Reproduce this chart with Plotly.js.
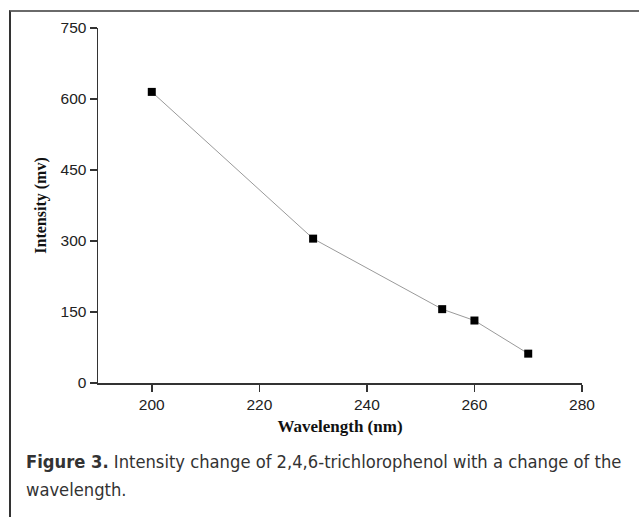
<!DOCTYPE html>
<html>
<head>
<meta charset="utf-8">
<script src="https://cdn.plot.ly/plotly-3.0.1.min.js"></script>
<style>
html,body{margin:0;padding:0;background:#fff;}
#frame{position:absolute;left:9px;top:10px;width:640px;height:520px;border-left:2px solid #333;border-top:2px solid #6a6a6a;box-sizing:border-box;}
#chart{position:absolute;left:0;top:0;width:639px;height:517px;}
</style>
</head>
<body>
<div id="frame"></div>
<div id="chart"></div>
<script>
const wavelength = [200, 230, 254, 260, 270];
const intensity = [615, 305, 156, 132, 62];
const xTicks = [200, 220, 240, 260, 280];
const yTicks = [0, 150, 300, 450, 600, 750];
const xTitle = "Wavelength (nm)";
const yTitle = "Intensity (mv)";
const captionBold = "Figure 3.";
const captionLine1 = " Intensity change of 2,4,6-trichlorophenol with a change of the";
const captionLine2 = "wavelength.";

const trace = {
  x: wavelength, y: intensity, type: 'scatter', mode: 'lines+markers',
  line: {color: '#9a9a9a', width: 1},
  marker: {symbol: 'square', size: 8, color: '#000'},
  hoverinfo: 'none'
};

const capFont = {family: 'DejaVu Sans Condensed, Open Sans, sans-serif', size: 18.2, color: '#333'};

const layout = {
  width: 639, height: 517,
  margin: {l: 98, r: 57, t: 28, b: 134},
  paper_bgcolor: 'rgba(0,0,0,0)', plot_bgcolor: 'rgba(0,0,0,0)',
  showlegend: false,
  xaxis: {
    range: [190, 280], tickvals: xTicks, ticks: 'outside', ticklen: 7, tickwidth: 1.5, tickcolor: '#333',
    showline: true, linecolor: '#333', linewidth: 1.5, showgrid: false, zeroline: false,
    tickfont: {family: 'Liberation Sans, Arial, sans-serif', size: 15.5, color: '#222'},
    title: {text: '<b>' + xTitle + '</b>', font: {family: 'Liberation Serif, Times New Roman, serif', size: 17, color: '#111'}, standoff: 8}
  },
  yaxis: {
    range: [0, 750], tickvals: yTicks, ticks: 'outside', ticklen: 7, tickwidth: 1.5, tickcolor: '#333',
    showline: true, linecolor: '#333', linewidth: 1.5, showgrid: false, zeroline: false,
    tickfont: {family: 'Liberation Sans, Arial, sans-serif', size: 15.5, color: '#222'},
    title: {text: '<b>' + yTitle + '</b>', font: {family: 'Liberation Serif, Times New Roman, serif', size: 16, color: '#111'}, standoff: 10}
  },
  annotations: [{
    xref: 'paper', yref: 'paper', x: -0.153, y: -0.2217, xanchor: 'left', yanchor: 'middle', align: 'left',
    showarrow: false,
    text: '<b>' + captionBold + '</b>' + captionLine1,
    font: capFont
  }, {
    xref: 'paper', yref: 'paper', x: -0.153, y: -0.301, xanchor: 'left', yanchor: 'middle', align: 'left',
    showarrow: false,
    text: captionLine2,
    font: capFont
  }]
};

Plotly.newPlot('chart', [trace], layout, {staticPlot: true, displayModeBar: false});
</script>
</body>
</html>
